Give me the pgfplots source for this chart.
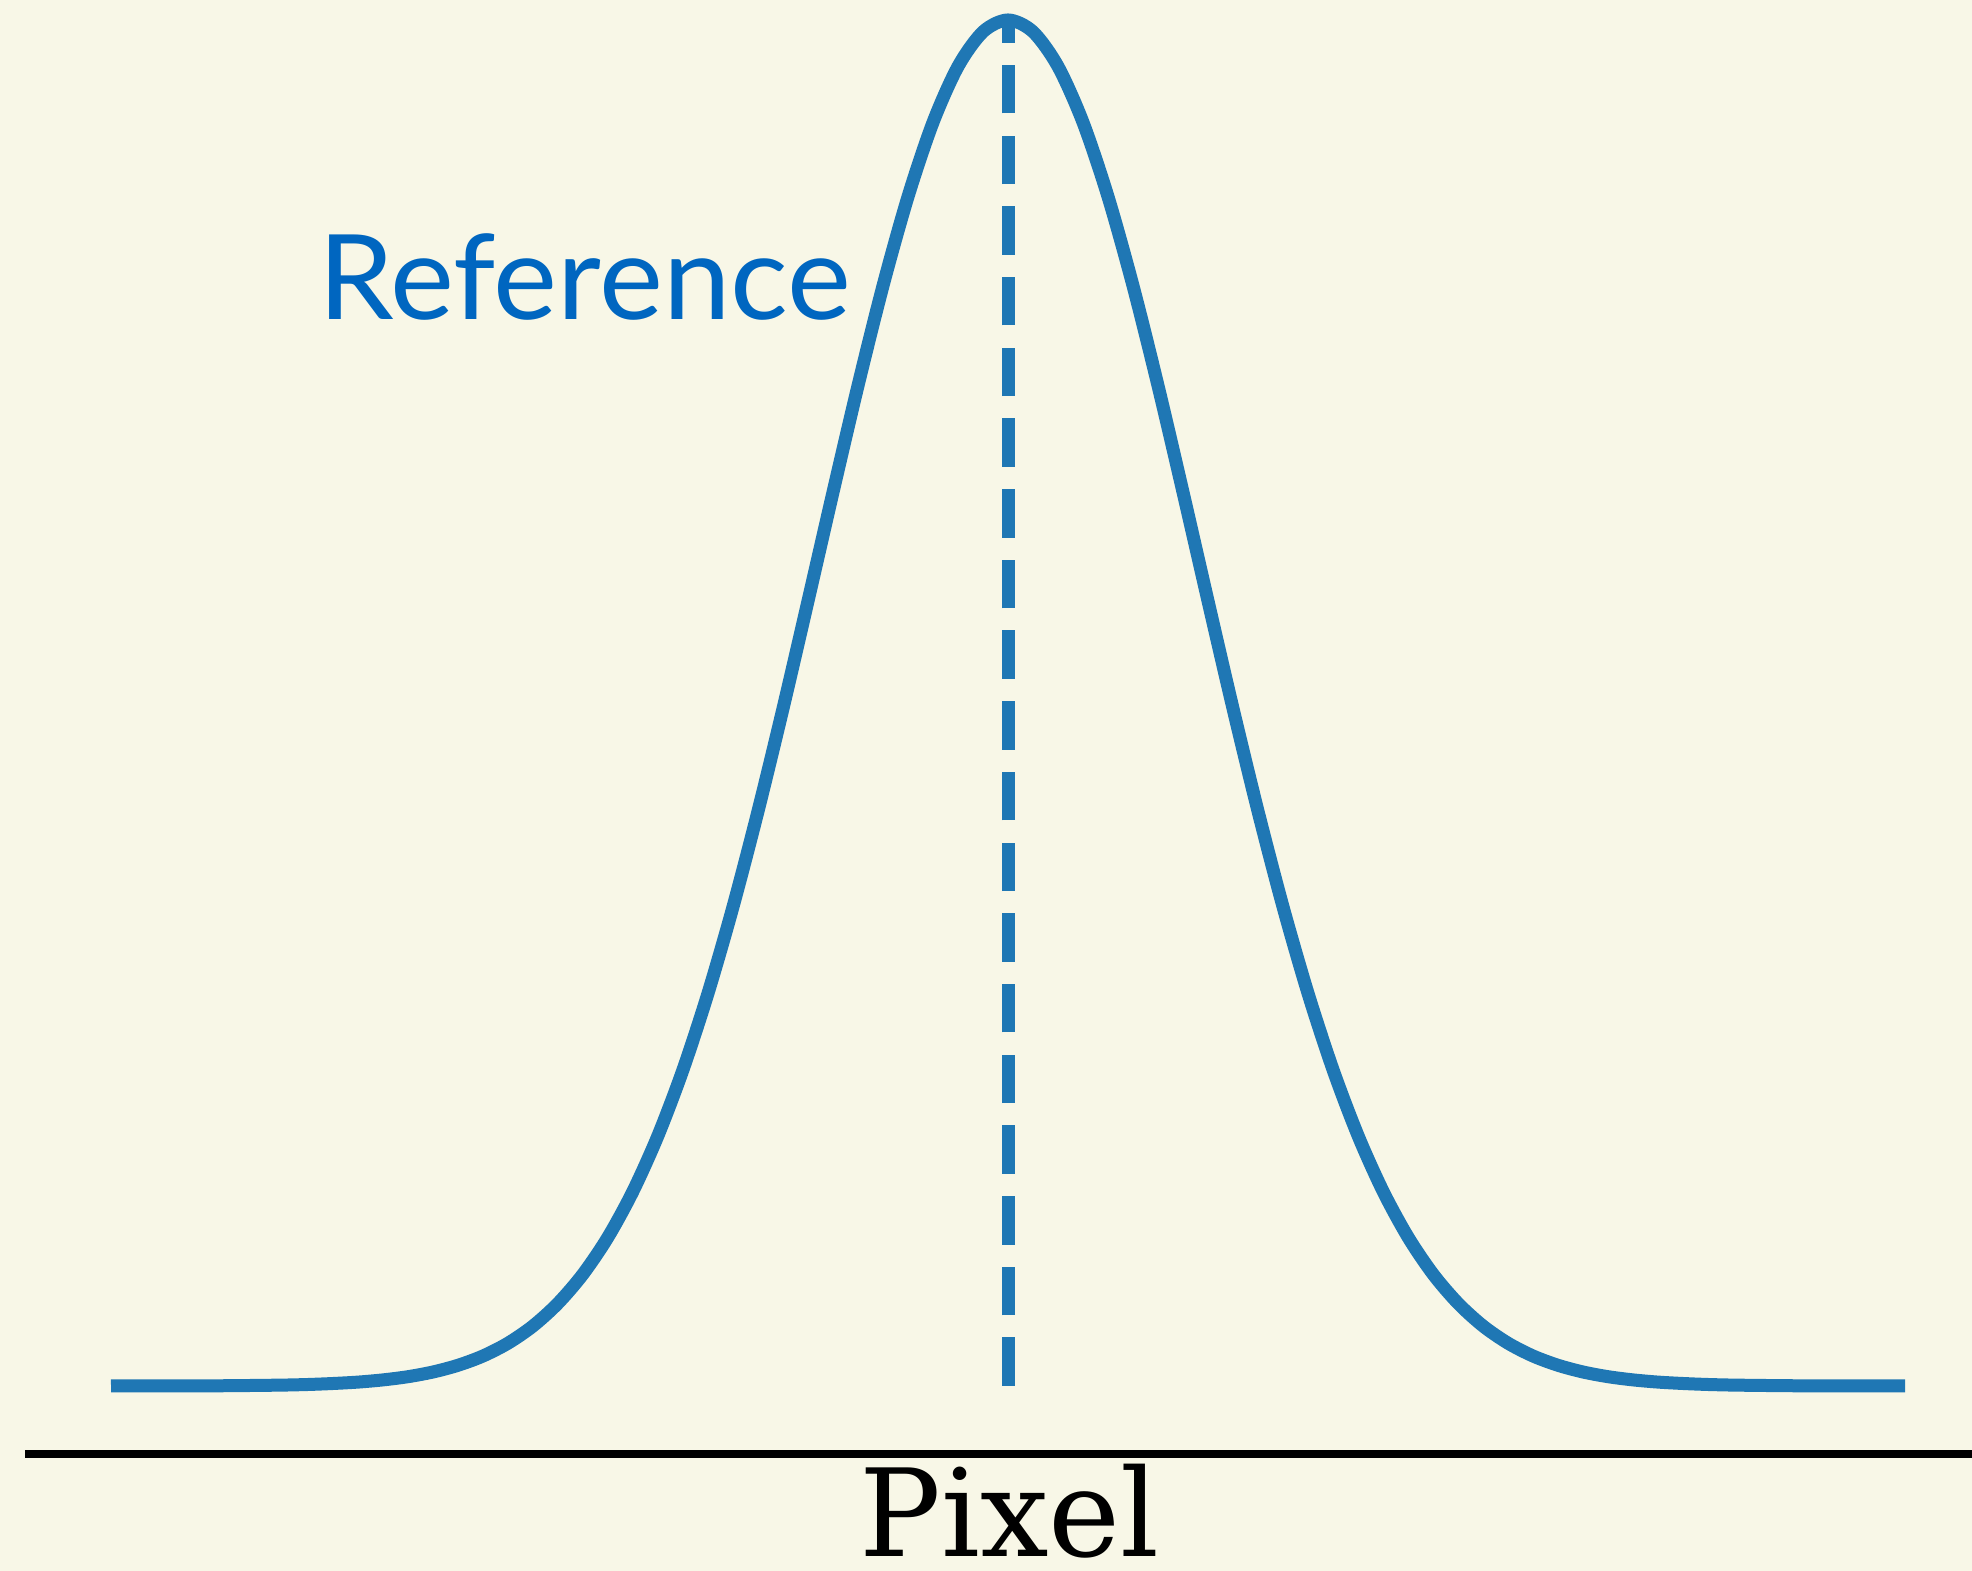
\documentclass[border=0pt]{standalone}
\usepackage{fontspec}
\usepackage{pgfplots}
\pgfplotsset{compat=1.18}
\setmainfont{DejaVu Serif}
\newfontfamily\reffont{Lato}
\definecolor{bg}{HTML}{F8F7E7}
\definecolor{tabblue}{HTML}{1F77B4}
\definecolor{txtblue}{HTML}{0066C0}
\begin{document}
\begin{tikzpicture}
\path[fill=bg,use as bounding box] (0,0) rectangle (197.2mm,157.1mm);
\begin{axis}[
  at={(2.5mm,11.7mm)}, anchor=south west,
  scale only axis, width=194.7mm, height=145.4mm,
  xmin=25, xmax=1972, ymin=117, ymax=1571,
  axis x line=bottom, axis y line=none,
  axis line style={-, line width=0.8mm, black},
  xtick=\empty, ytick=\empty,
  clip=false,
  xlabel={Pixel},
  xlabel style={at={(axis description cs:0.50565,0)}, anchor=base, yshift=-10.3mm, inner sep=0pt, font=\fontsize{34.6}{40}\selectfont},
]
\addplot[color=tabblue, line width=1.3mm, smooth] coordinates {
(111,185.0) (158,185.1) (208,185.2) (233,185.3) (258,185.6) (283,185.9) (308,186.5) (333,187.5) (358,188.9) (383,191.1) (408,194.3) (433,199.0) (458,205.7) (483,215.0) (508,227.8) (533,245.0) (558,267.7) (583,296.9) (608,333.9) (633,379.8) (658,435.4) (683,501.3) (708,577.7) (733,664.2) (758,759.8) (783,862.5) (808,970.0) (833,1078.8) (858,1185.3) (883,1285.2) (908,1374.3) (933,1448.6) (958,1504.5) (983,1539.2) (1008,1551.0)
(1033,1539.2) (1058,1504.5) (1083,1448.6) (1108,1374.3) (1133,1285.2) (1158,1185.3) (1183,1078.8) (1208,970.0) (1233,862.5) (1258,759.8) (1283,664.2) (1308,577.7) (1333,501.3) (1358,435.4) (1383,379.8) (1408,333.9) (1433,296.9) (1458,267.7) (1483,245.0) (1508,227.8) (1533,215.0) (1558,205.7) (1583,199.0) (1608,194.3) (1633,191.1) (1658,188.9) (1683,187.5) (1708,186.5) (1733,185.9) (1758,185.6) (1783,185.3) (1808,185.2) (1858,185.1) (1905,185.0)
};
\addplot[color=tabblue, line width=1.3mm, dash pattern=on 4.85mm off 2.22mm] coordinates {(1008,185) (1008,1551)};
\node[anchor=base west, inner sep=0pt, xscale=1.025, text=txtblue, font=\reffont\fontsize{33.6}{40}\selectfont] at (axis cs:317.5,1251.5) {Reference};
\end{axis}
\end{tikzpicture}
\end{document}
